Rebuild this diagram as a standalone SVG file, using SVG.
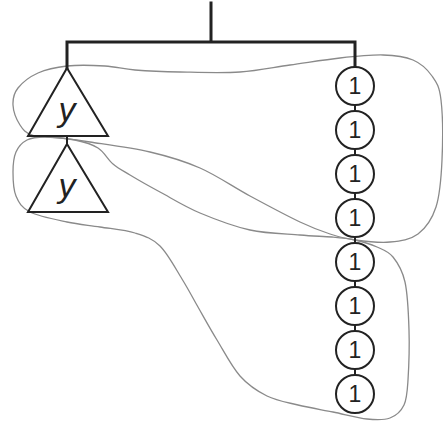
<svg xmlns="http://www.w3.org/2000/svg" width="443" height="424" viewBox="0 0 443 424">
<style>
.tree{stroke:#222;stroke-width:3;fill:none;stroke-linecap:square}
.link{stroke:#222;stroke-width:2;fill:none}
.tri{stroke:#222;stroke-width:2;fill:none;stroke-linejoin:miter}
.circ{stroke:#222;stroke-width:2;fill:#fff}
.one{font-family:"Liberation Sans",Arial,sans-serif;font-size:23px;text-anchor:middle;fill:#222}
.var{font-family:"Liberation Sans",Arial,sans-serif;font-size:34px;font-style:italic;text-anchor:middle;fill:#222}
.region{stroke:#8a8a8a;stroke-width:1.3;fill:none}
</style>
<g id="regions">
<path class="region" d="M355,240 C365,241.3 379.5,243 390,242 S410.3,239.8 418,234 S432,219.3 436,207 S441.2,177.8 442,160 S442.7,114 441,100 S436.7,82.7 432,76 S421.2,63.5 413,60 S395.2,55.3 383,55 S355.5,56.3 340,58 S306.7,62.7 290,65 S258.3,70.8 240,72 S197.5,72.3 180,72 S147.5,71 135,70 S116.3,66.7 105,66 S78.2,64.8 67,66 S46.2,69.3 38,73 S22.2,82.7 18,88 S12.7,98.8 13,105 S16.8,120 20,125 S25.3,132.8 32,135 S50.3,136.8 60,138 S75,139.7 90,142 S131.7,147.7 150,152 S183.3,160.7 200,168 S233.3,187 250,196 S286.7,215.7 300,222 S320.8,231 330,234 S345,238.7 355,240 Z"/>
<path class="region" d="M355,240 C362.5,241.7 370.7,244.2 377,247 S388.3,251.2 393,257 S402.3,269.8 405,282 S408.5,313.7 409,330 S408.8,367.5 408,380 S407,398.7 404,405 S396.2,415.7 390,418 S376.5,420 367,419 S344.5,414.3 333,412 S309,407.7 298,405 S276.7,400.8 267,396 S248.3,385.3 240,376 S224,351.5 217,340 S203.8,317.2 198,307 S188.3,289.2 182,279 S167.8,253.7 160,246 S145,236.2 135,233 S111.3,228.8 100,227 S78.7,224.5 67,222 S38.5,216.3 30,212 S18.8,202.7 16,196 S13,179.3 13,172 S13.7,157.3 16,152 S22.2,142.5 27,140 S37,137 45,137 S66.2,138.2 75,140 S91.7,144 98,148 S107.7,159.5 113,164 S122.2,170.3 130,175 S148.3,185.7 160,192 S185,206.7 200,213 S233.3,226.3 250,230 S286.3,233.8 300,235 S322.8,236.2 332,237 S347.5,238.3 355,240 Z"/>
</g>
<g id="connectors">
<path class="tree" d="M211,3 V42 M67,42 H355 M67,42 V68 M355,42 V67"/>
<path class="link" d="M67,136 V144 M355,105 V111 M355,149 V155 M355,193 V199 M355,237 V243 M355,281 V287 M355,325 V331 M355,369 V375"/>
</g>
<g id="tri1"><polygon class="tri" points="67,68 108,136 28,136"/><text class="var" x="67" y="121">y</text></g>
<g id="tri2"><polygon class="tri" points="67,144 108,212 28,212"/><text class="var" x="67" y="197">y</text></g>
<g id="c1"><circle class="circ" cx="355" cy="86" r="19"/><text class="one" x="355" y="94">1</text></g>
<g id="c2"><circle class="circ" cx="355" cy="130" r="19"/><text class="one" x="355" y="138">1</text></g>
<g id="c3"><circle class="circ" cx="355" cy="174" r="19"/><text class="one" x="355" y="182">1</text></g>
<g id="c4"><circle class="circ" cx="355" cy="218" r="19"/><text class="one" x="355" y="226">1</text></g>
<g id="c5"><circle class="circ" cx="355" cy="262" r="19"/><text class="one" x="355" y="270">1</text></g>
<g id="c6"><circle class="circ" cx="355" cy="306" r="19"/><text class="one" x="355" y="314">1</text></g>
<g id="c7"><circle class="circ" cx="355" cy="350" r="19"/><text class="one" x="355" y="358">1</text></g>
<g id="c8"><circle class="circ" cx="355" cy="394" r="19"/><text class="one" x="355" y="402">1</text></g>
</svg>
